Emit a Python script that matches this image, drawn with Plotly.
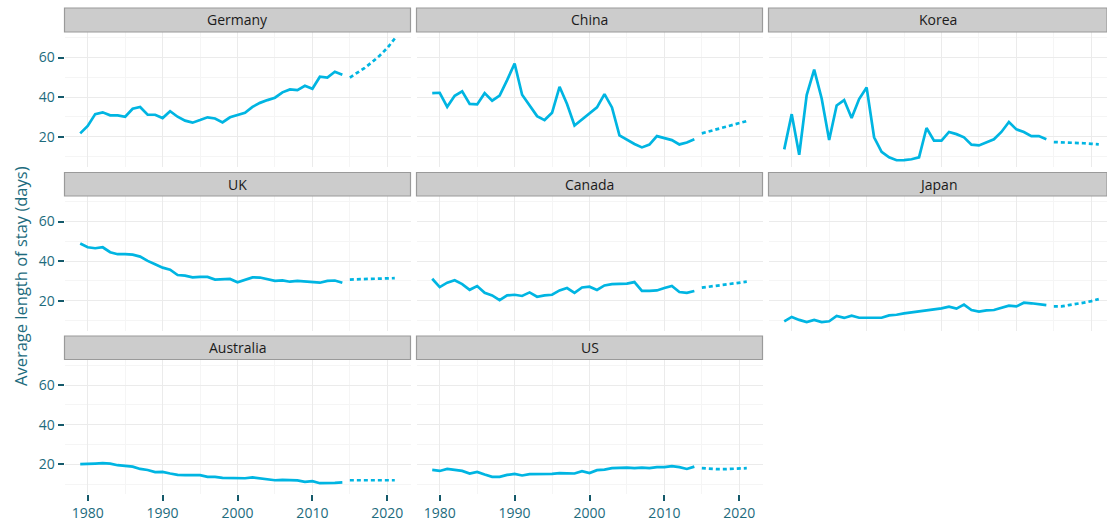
import plotly.graph_objects as go

# ---- data -------------------------------------------------------------
countries = ["Germany", "China", "Korea", "UK", "Canada", "Japan", "Australia", "US"]
years = list(range(1979, 2015))
proj_years = list(range(2015, 2022))

germany = [21.7, 25.4, 31.4, 32.3, 30.8, 30.8, 30.1, 34.1, 35.0, 31.1, 31.1, 29.4,
           32.9, 30.1, 28.1, 27.1, 28.4, 29.8, 29.2, 27.2, 29.8, 31.1, 32.1, 35.1,
           37.1, 38.5, 39.7, 42.4, 43.9, 43.5, 45.7, 44.2, 50.3, 49.9, 52.8, 51.3]
germany_proj = [49.9, 52.3, 54.8, 57.8, 61.0, 64.8, 69.6]

china = [42.0, 42.2, 35.1, 40.7, 42.9, 36.6, 36.3, 42.0, 38.2, 40.8, 48.6, 57.0,
         41.2, 35.5, 30.4, 28.4, 32.1, 45.2, 36.5, 25.7, 28.7, 32.1, 34.8, 41.5,
         34.8, 20.7, 18.3, 16.3, 14.6, 16.0, 20.3, 19.3, 18.3, 16.1, 17.1, 18.7]
china_proj = [21.7, 22.7, 23.8, 24.8, 25.8, 26.9, 27.9]

korea = [13.6, 31.4, 10.9, 41.0, 53.9, 39.3, 18.3, 35.8, 38.5, 29.4, 39.0, 44.9,
         19.7, 12.4, 9.6, 8.1, 8.2, 8.6, 9.6, 24.4, 18.0, 18.0, 22.4, 21.3,
         19.7, 16.0, 15.6, 17.3, 18.7, 22.4, 27.4, 23.7, 22.4, 20.3, 20.3, 18.7]
korea_proj = [17.3, 17.2, 17.0, 16.9, 16.7, 16.4, 16.1]

uk = [48.9, 47.0, 46.5, 47.0, 44.5, 43.5, 43.5, 43.3, 42.3, 40.1, 38.4, 36.7,
      35.7, 33.0, 32.7, 31.8, 32.0, 32.0, 30.7, 30.7, 31.0, 29.3, 30.7, 31.8,
      31.7, 31.0, 30.0, 30.3, 29.6, 30.0, 29.6, 29.3, 29.1, 30.0, 30.2, 29.1]
uk_proj = [30.7, 30.8, 30.9, 31.0, 31.1, 31.2, 31.4]

canada = [31.1, 26.9, 29.1, 30.3, 28.4, 25.5, 27.4, 24.0, 22.7, 20.3, 22.7, 23.0,
          22.4, 24.2, 22.0, 22.7, 23.0, 25.2, 26.4, 24.0, 26.7, 27.1, 25.4, 27.7,
          28.4, 28.6, 28.6, 29.4, 25.0, 25.0, 25.2, 26.4, 27.4, 24.4, 24.0, 24.9]
canada_proj = [26.6, 27.1, 27.6, 28.1, 28.6, 29.1, 29.6]

japan = [9.6, 11.8, 10.3, 9.2, 10.3, 9.2, 9.6, 12.3, 11.3, 12.4, 11.4, 11.3,
         11.3, 11.4, 12.6, 12.9, 13.6, 14.1, 14.9, 15.1, 15.8, 16.1, 17.0, 16.0,
         18.0, 15.3, 14.5, 15.1, 15.3, 16.6, 17.5, 17.1, 19.0, 18.7, 18.2, 17.8]
japan_proj = [17.1, 17.1, 17.8, 18.3, 19.0, 19.8, 20.8]

australia = [20.0, 20.0, 20.3, 20.5, 20.3, 19.5, 19.2, 18.8, 17.6, 17.1, 16.0, 16.1,
             15.3, 14.6, 14.5, 14.5, 14.5, 13.6, 13.6, 13.1, 13.1, 12.9, 12.9, 13.3,
             12.9, 12.4, 11.9, 12.1, 11.8, 11.8, 11.1, 11.4, 10.4, 10.4, 10.6, 10.8]
australia_proj = [11.9, 11.9, 11.9, 11.9, 11.9, 11.9, 11.9]

us = [17.1, 16.6, 17.6, 17.1, 16.6, 15.3, 16.1, 14.8, 13.6, 13.6, 14.6, 15.1,
      14.3, 15.0, 15.0, 15.0, 15.1, 15.5, 15.5, 15.3, 16.5, 15.5, 17.0, 17.3,
      18.0, 18.2, 18.3, 18.0, 18.3, 18.0, 18.5, 18.5, 19.0, 18.5, 17.6, 18.8]
us_proj = [18.0, 17.6, 17.5, 17.5, 17.6, 17.7, 18.0]

history = [germany, china, korea, uk, canada, japan, australia, us]
projection = [germany_proj, china_proj, korea_proj, uk_proj,
              canada_proj, japan_proj, australia_proj, us_proj]

# ---- layout geometry (pixels) -----------------------------------------
W, H = 1107, 524
col_px = [(64.5, 410.5), (416.5, 762.5), (768.5, 1107.0)]
# (strip top, panel top, panel bottom)
row_px = [(8.0, 32.0, 166.5), (172.5, 196.0, 330.5), (336.0, 359.5, 494.0)]
panel_w = col_px[0][1] - col_px[0][0]
x_lo, x_hi = 1976.9, 2023.1
y_range = [4.95, 72.9]

LINE = "#00B5E2"
TEAL = "#1D6B7D"
TICK = "#14596A"
GRID_MAJOR = "#EBEBEB"
GRID_MINOR = "#F5F5F5"
FONT = "Open Sans"


def px_x(v):
    return v / W


def px_y(v):
    return 1 - v / H


fig = go.Figure()
shapes, annotations = [], []
layout_axes = {}

for i, name in enumerate(countries):
    r, c = divmod(i, 3)
    n = i + 1
    xa = "x" if n == 1 else f"x{n}"
    ya = "y" if n == 1 else f"y{n}"
    x0p, x1p = col_px[c]
    st, pt, pb = row_px[r]

    # same scale in every column; the last column is clipped by the page edge
    xr_hi = x_lo + (x_hi - x_lo) * (x1p - x0p) / panel_w

    fig.add_trace(go.Scatter(
        x=years, y=history[i], xaxis=xa, yaxis=ya, mode="lines",
        line=dict(color=LINE, width=2.7), showlegend=False, hoverinfo="x+y"))
    fig.add_trace(go.Scatter(
        x=proj_years, y=projection[i], xaxis=xa, yaxis=ya, mode="lines",
        line=dict(color=LINE, width=2.7, dash="4px,3px"), showlegend=False,
        hoverinfo="x+y"))

    bottom_row = name in ("Australia", "US")
    left_col = c == 0

    layout_axes[f"xaxis{'' if n == 1 else n}"] = dict(
        domain=[px_x(x0p), px_x(x1p)], range=[x_lo, xr_hi], anchor=ya,
        tickmode="linear", tick0=1980, dtick=10,
        showgrid=True, gridcolor=GRID_MAJOR, gridwidth=1.2,
        minor=dict(dtick=5, tick0=1975, showgrid=True, gridcolor=GRID_MINOR,
                   gridwidth=1, ticks=""),
        zeroline=False, showline=False,
        ticks="outside" if bottom_row else "", ticklen=6, tickwidth=2,
        tickcolor=TICK, showticklabels=bottom_row,
        tickfont=dict(family=FONT, size=14, color=TEAL))
    layout_axes[f"yaxis{'' if n == 1 else n}"] = dict(
        domain=[px_y(pb), px_y(pt)], range=y_range, anchor=xa,
        tickmode="linear", tick0=0, dtick=20,
        showgrid=True, gridcolor=GRID_MAJOR, gridwidth=1.2,
        minor=dict(dtick=10, tick0=0, showgrid=True, gridcolor=GRID_MINOR,
                   gridwidth=1, ticks=""),
        zeroline=False, showline=False,
        ticks="outside" if left_col else "", ticklen=6, tickwidth=2,
        tickcolor=TICK, showticklabels=left_col,
        tickfont=dict(family=FONT, size=14, color=TEAL))

    # facet strip
    shapes.append(dict(type="rect", xref="paper", yref="paper",
                       x0=px_x(x0p), x1=px_x(x1p), y0=px_y(pt), y1=px_y(st),
                       fillcolor="#CCCCCC", line=dict(color="#9A9A9A", width=1.2),
                       layer="above"))
    annotations.append(dict(text=name, xref="paper", yref="paper",
                            x=px_x((x0p + min(x1p, x0p + panel_w)) / 2),
                            y=px_y((st + pt) / 2), showarrow=False,
                            xanchor="center", yanchor="middle",
                            font=dict(family=FONT, size=14, color="#1A1A1A")))

annotations.append(dict(text="Average length of stay (days)", xref="paper",
                        yref="paper", x=px_x(20), y=px_y(276), textangle=-90,
                        showarrow=False, xanchor="center", yanchor="middle",
                        font=dict(family=FONT, size=16.5, color=TEAL)))

fig.update_layout(width=W, height=H, margin=dict(l=0, r=0, t=0, b=0),
                  paper_bgcolor="white", plot_bgcolor="white",
                  shapes=shapes, annotations=annotations, **layout_axes)

fig.write_html("out.html")
